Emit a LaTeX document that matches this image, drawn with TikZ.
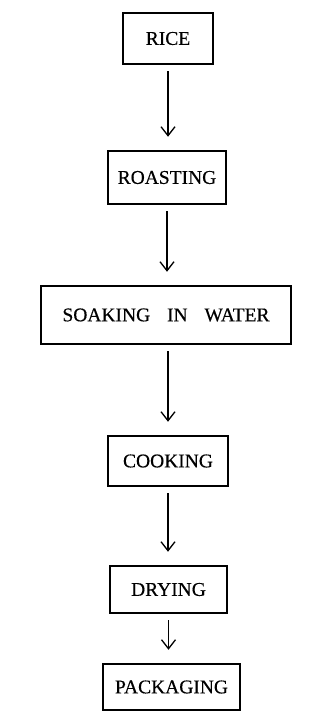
\documentclass[tikz,border=0pt]{standalone}
\usepackage{fontspec}
\setmainfont{Liberation Serif}[FakeBold=0.4]
\usetikzlibrary{arrows.meta}
\begin{document}
\begin{tikzpicture}[x=1pt,y=-1pt,
  stepbox/.style={draw, line width=2.5pt, inner sep=0pt, align=center,
    font=\fontsize{19.5}{22}\selectfont},
  flow/.style={-{Straight Barb[length=9pt,width=14pt,line width=1.3pt]}, line width=1.2pt,
    shorten <=6pt, shorten >=13pt}]
\useasboundingbox (0,0) rectangle (329,712);
\node[stepbox, minimum width=90pt, minimum height=51pt] (rice) at (168,38.5) {RICE};
\node[stepbox, minimum width=118pt, minimum height=53pt] (roast) at (167,177.5) {ROASTING};
\node[stepbox, minimum width=250pt, minimum height=58pt] (soak) at (166,315) {SOAKING\hspace{12pt} IN\hspace{12pt} WATER};
\node[stepbox, minimum width=120pt, minimum height=50pt] (cook) at (168,461) {COOKING};
\node[stepbox, minimum width=117pt, minimum height=47pt] (dry) at (168.5,589.5) {DRYING};
\node[stepbox, minimum width=137pt, minimum height=46pt] (pack) at (171.5,687) {PACKAGING};
\draw[flow] (rice.south) -- (rice.south |- roast.north);
\draw[flow] (roast.south) -- (roast.south |- soak.north);
\draw[flow] (soak.south -| cook.north) -- (cook.north);
\draw[flow] (cook.south) -- (cook.south |- dry.north);
\draw[flow] (dry.south) -- (dry.south |- pack.north);
\end{tikzpicture}
\end{document}
